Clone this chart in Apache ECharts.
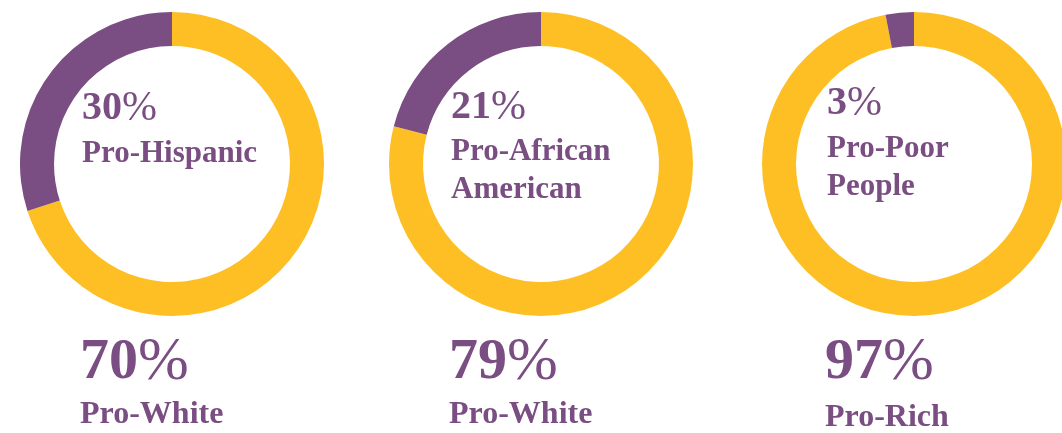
<!DOCTYPE html>
<html>
<head>
<meta charset="utf-8">
<script src="https://cdn.jsdelivr.net/npm/echarts@6/dist/echarts.min.js"></script>
<style>
  html, body { margin: 0; padding: 0; background: #fff; }
  #chart { width: 1062px; height: 433px; }
</style>
</head>
<body>
<div id="chart"></div>
<script>
// data
const minorityLabels = ["Pro-Hispanic", "Pro-African\nAmerican", "Pro-Poor\nPeople"];
const majorityLabels = ["Pro-White", "Pro-White", "Pro-Rich"];
const minorityValues = [30, 21, 3];
const majorityValues = [70, 79, 97];

// layout (centre x of each ring, text left edges)
const centersX = [172, 541, 914];
const textLeft = [82, 451, 827];

const YELLOW = "#FDBF24";
const PURPLE = "#7A4E82";
const FONT = "'Liberation Serif', 'DejaVu Serif', serif";

const chart = echarts.init(document.getElementById("chart"));

const series = centersX.map((cx, i) => ({
  type: "pie",
  center: [cx, 164],
  radius: [118, 152],
  startAngle: 90,
  clockwise: true,
  silent: true,
  label: { show: false },
  labelLine: { show: false },
  emphasis: { disabled: true },
  data: [
    { name: majorityLabels[i], value: majorityValues[i], itemStyle: { color: YELLOW } },
    { name: minorityLabels[i], value: minorityValues[i], itemStyle: { color: PURPLE } },
  ],
}));

const pctText = (v, y, x, size) => ({
  type: "text",
  x: x,
  y: y,
  style: {
    text: `{n|${v}}{p|%}`,
    textVerticalAlign: "middle",
    rich: {
      n: { fontFamily: FONT, fontSize: size, fontWeight: "bold", fill: PURPLE },
      p: { fontFamily: FONT, fontSize: size * 1.05, fontWeight: "normal", fill: PURPLE },
    },
  },
});

// one text element per line, so each line's middle sits where it should
const labelLines = (t, y, x, size) =>
  t.split("\n").map((line, k) => ({
    type: "text",
    x: x,
    y: y + k * 38,
    style: {
      text: line,
      fill: PURPLE,
      font: `bold ${size}px ${FONT}`,
      textVerticalAlign: "middle",
    },
  }));

const innerPctY = [109, 108, 104];
const innerLabelY = [154, 152, 149];
const outerLabelY = [415, 415, 418];
const graphics = [];
centersX.forEach((cx, i) => {
  graphics.push(pctText(minorityValues[i], innerPctY[i], textLeft[i], 40));
  graphics.push(...labelLines(minorityLabels[i], innerLabelY[i], textLeft[i], 31));
  graphics.push(pctText(majorityValues[i], 363, textLeft[i] - 2, 58));
  graphics.push(...labelLines(majorityLabels[i], outerLabelY[i], textLeft[i] - 2, 32));
});

chart.setOption({
  animation: false,
  backgroundColor: "#fff",
  series: series,
  graphic: graphics,
});
</script>
</body>
</html>
